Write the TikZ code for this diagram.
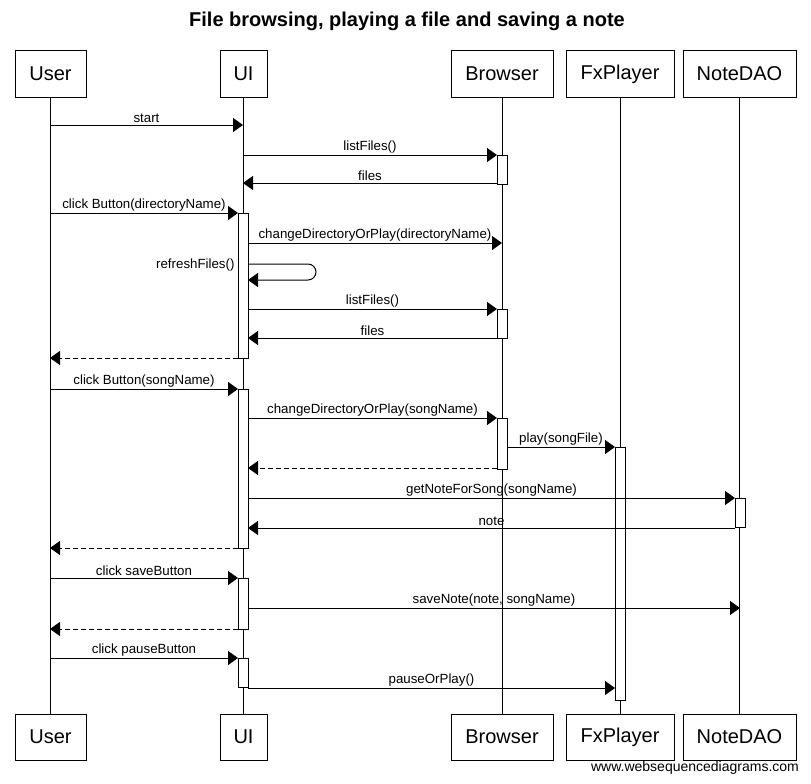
\documentclass[tikz,border=0pt]{standalone}
\usepackage{fontspec}
\setmainfont{Liberation Sans}
\usetikzlibrary{arrows.meta}
\begin{document}
\begin{tikzpicture}[x=1pt,y=-1pt,line width=1pt,
  head/.style={draw, line width=1pt, minimum height=46pt, inner sep=0pt, font=\fontsize{20}{24}\selectfont},
  life/.style={line width=1pt},
  act/.style={draw, fill=white, line width=1pt},
  msg/.style={line width=1pt, -{Triangle[length=10pt,width=14pt]}},
  ret/.style={msg, dash pattern=on 5pt off 3pt},
  lbl/.style={font=\fontsize{13.3}{15}\selectfont, inner sep=0pt, above=1.5pt}]
\fill[white] (0,0) rectangle (811,784);
\useasboundingbox (0,0) rectangle (811,784);
\node[font=\bfseries\fontsize{20}{24}\selectfont] (title) at (407,21) {File browsing, playing a file and saving a note};
% heads
\node[head, minimum width=71pt] (U) at (50.5,74) {User};
\node[head, minimum width=47pt] (I) at (243.5,74) {UI};
\node[head, minimum width=102pt] (B) at (502,74) {Browser};
\node[head, minimum width=108pt] (F) at (620,74) {FxPlayer};
\node[head, minimum width=113pt] (N) at (739.5,74) {NoteDAO};
\node[head, minimum width=71pt] (U2) at (50.5,737) {User};
\node[head, minimum width=47pt] (I2) at (243.5,737) {UI};
\node[head, minimum width=102pt] (B2) at (502,737) {Browser};
\node[head, minimum width=108pt] (F2) at (620,737) {FxPlayer};
\node[head, minimum width=113pt] (N2) at (739.5,737) {NoteDAO};
\node[font=\fontsize{14}{16}\selectfont, inner sep=0pt] (foot) at (695,768) {www.websequencediagrams.com};
% lifelines
\draw[life] (U) -- (U2);
\draw[life] (I) -- (I2);
\draw[life] (B) -- (B2);
\draw[life] (F) -- (F2);
\draw[life] (N) -- (N2);
% activations
\draw[act] (238,213) rectangle (248,358);
\draw[act] (238,389) rectangle (248,548);
\draw[act] (238,578) rectangle (248,629);
\draw[act] (238,658) rectangle (248,687);
\draw[act] (497,155) rectangle (507,184);
\draw[act] (497,309) rectangle (507,338);
\draw[act] (497,418) rectangle (507,469);
\draw[act] (615,447) rectangle (625,700);
\draw[act] (735,498) rectangle (745,527);
% messages
\draw[msg] (50,125) -- node[lbl]{start} (243,125);
\draw[msg] (243,155) -- node[lbl]{listFiles()} (497,155);
\draw[msg] (497,183) -- node[lbl]{files} (243,183);
\draw[msg] (50,213) -- node[lbl]{click Button(directoryName)} (238,213);
\draw[msg] (248,243) -- node[lbl]{changeDirectoryOrPlay(directoryName)} (502,243);
\draw[msg, rounded corners=8pt] (248,264) -- (316,264) -- (316,280) -- (248,280);
\node[font=\fontsize{13.3}{15}\selectfont, inner sep=0pt, anchor=east] (rf) at (235,265) {refreshFiles()};
\draw[msg] (248,309) -- node[lbl]{listFiles()} (497,309);
\draw[msg] (497,338) -- node[lbl]{files} (248,338);
\draw[ret] (238,358) -- (50,358);
\draw[msg] (50,389) -- node[lbl]{click Button(songName)} (238,389);
\draw[msg] (248,418) -- node[lbl]{changeDirectoryOrPlay(songName)} (497,418);
\draw[msg] (507,447) -- node[lbl]{play(songFile)} (615,447);
\draw[ret] (497,468) -- (248,468);
\draw[msg] (248,498) -- node[lbl]{getNoteForSong(songName)} (735,498);
\draw[msg] (735,528) -- node[lbl]{note} (248,528);
\draw[ret] (238,548) -- (50,548);
\draw[msg] (50,578) -- node[lbl]{click saveButton} (238,578);
\draw[msg] (248,608) -- node[lbl]{saveNote(note, songName)} (740,608);
\draw[ret] (238,629) -- (50,629);
\draw[msg] (50,658) -- node[lbl]{click pauseButton} (238,658);
\draw[msg] (248,688) -- node[lbl]{pauseOrPlay()} (615,688);
\end{tikzpicture}
\end{document}
